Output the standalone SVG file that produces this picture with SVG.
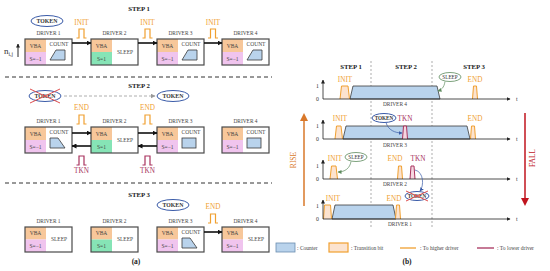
<svg xmlns="http://www.w3.org/2000/svg" width="550" height="271" viewBox="0 0 550 271">
<defs>
<style>
text{font-family:"Liberation Serif","DejaVu Serif",serif;fill:#333}
.step{font-size:6.8px;font-weight:bold;text-anchor:middle;fill:#222}
.dl{font-size:5.4px;text-anchor:middle;fill:#444}
.bt{font-size:5.5px;text-anchor:middle;fill:#444}
.box{fill:none;stroke:#4a4a4a;stroke-width:1.2}
.bg{fill:#fff}
.vba{fill:#F7C79A}
.neg{fill:#F0C4EE}
.pos{fill:#86E4B6}
.cnt{fill:#B9D3EC;stroke:#3a3a3a;stroke-width:0.8}
.lo{font-size:7.2px;text-anchor:middle;fill:#F0A030}
.lr{font-size:7.2px;text-anchor:middle;fill:#A8325E}
.po{fill:none;stroke:#F0A030;stroke-width:1.2}
.pr{fill:none;stroke:#A8325E;stroke-width:1.2}
.tb{fill:#FCE3CF;stroke:#F0A030;stroke-width:1}
.tbr{fill:#F5D6E0;stroke:#A8325E;stroke-width:1}
.tok{fill:#fff;stroke:#3A5BA8;stroke-width:1}
.tt{font-size:5.8px;font-weight:bold;text-anchor:middle;fill:#333}
.slp{fill:#fff;stroke:#5C8A5C;stroke-width:0.8}
.st{font-size:5.2px;text-anchor:middle;fill:#333}
.ar{stroke:#111;stroke-width:1.6;fill:none;marker-end:url(#ab)}
.sep{stroke:#333;stroke-width:1;stroke-dasharray:4 3}
.vd{stroke:#777;stroke-width:0.6;stroke-dasharray:2 2}
.ax{stroke:#222;stroke-width:0.8;fill:none;marker-end:url(#ak)}
.al{font-size:5.8px;text-anchor:end;fill:#333}
.cross{stroke:#E05050;stroke-width:1}
.lg{font-size:5.5px;fill:#444}
</style>
<marker id="ab" markerWidth="5" markerHeight="5" refX="4.5" refY="2.5" orient="auto" markerUnits="userSpaceOnUse"><path d="M0,0 L5,2.5 L0,5 z" fill="#111"/></marker>
<marker id="ak" markerWidth="4" markerHeight="4" refX="3.5" refY="2" orient="auto" markerUnits="userSpaceOnUse"><path d="M0,0 L4,2 L0,4 z" fill="#222"/></marker>
<marker id="ag" markerWidth="5" markerHeight="5" refX="4.5" refY="2.5" orient="auto" markerUnits="userSpaceOnUse"><path d="M0,0 L5,2.5 L0,5 z" fill="#999"/></marker>
<marker id="abl" markerWidth="4" markerHeight="4" refX="3.5" refY="2" orient="auto" markerUnits="userSpaceOnUse"><path d="M0,0 L4,2 L0,4 z" fill="#3A5BA8"/></marker>
<marker id="agr" markerWidth="4" markerHeight="4" refX="3.5" refY="2" orient="auto" markerUnits="userSpaceOnUse"><path d="M0,0 L4,2 L0,4 z" fill="#5C8A5C"/></marker>
<marker id="aor" markerWidth="8" markerHeight="8" refX="6" refY="4" orient="auto" markerUnits="userSpaceOnUse"><path d="M0,0 L8,4 L0,8 z" fill="#D9782A"/></marker>
<marker id="are" markerWidth="8" markerHeight="8" refX="6" refY="4" orient="auto" markerUnits="userSpaceOnUse"><path d="M0,0 L8,4 L0,8 z" fill="#C0141E"/></marker>
</defs>
<rect width="550" height="271" fill="#fff"/>

<!-- ===== Panel (a) ===== -->
<text class="step" x="139" y="11">STEP 1</text>
<text class="step" x="139" y="88">STEP 2</text>
<text class="step" x="139" y="197">STEP 3</text>
<line class="sep" x1="5" y1="77" x2="272" y2="77"/>
<line class="sep" x1="5" y1="183" x2="272" y2="183"/>

<g id="nij">
<text x="4" y="54" style="font-size:9px;fill:#333">n<tspan style="font-size:5.5px" dy="2">i,j</tspan></text>
<line x1="18" y1="57" x2="18" y2="44" stroke="#111" stroke-width="0.9" marker-end="url(#ak)"/>
</g>

<!-- tokens -->
<g id="token-s1"><ellipse class="tok" cx="47" cy="21" rx="16" ry="5.5"/><text class="tt" x="47" y="23">TOKEN</text></g>
<g id="token-s2-old"><ellipse class="tok" cx="45" cy="96" rx="16" ry="5.5"/><text class="tt" x="45" y="98">TOKEN</text>
<line class="cross" x1="30" y1="89" x2="60" y2="103"/><line class="cross" x1="30" y1="103" x2="60" y2="89"/></g>
<g id="token-s2"><ellipse class="tok" cx="173" cy="96" rx="16" ry="5.5"/><text class="tt" x="173" y="98">TOKEN</text></g>
<g id="token-s3"><ellipse class="tok" cx="173" cy="205" rx="16" ry="5.5"/><text class="tt" x="173" y="207">TOKEN</text></g>

<!-- Step 1 drivers -->
<g id="s1-d1"><text class="dl" x="48.5" y="35">DRIVER 1</text><rect class="bg" x="25" y="39" width="47" height="26"/><rect class="vba" x="25" y="39" width="21" height="13"/><rect class="neg" x="25" y="52" width="21" height="13"/><text class="bt" x="35.5" y="47.5">VBA</text><text class="bt" x="35.5" y="60.5">S=−1</text><text class="bt" x="59" y="46">COUNT</text><polygon class="cnt" points="50,60 56,50 65,50 65,60"/><rect class="box" x="25" y="39" width="47" height="26"/></g>
<g id="s1-d2"><text class="dl" x="114.5" y="35">DRIVER 2</text><rect class="bg" x="91" y="39" width="47" height="26"/><rect class="vba" x="91" y="39" width="21" height="13"/><rect class="pos" x="91" y="52" width="21" height="13"/><text class="bt" x="101.5" y="47.5">VBA</text><text class="bt" x="101.5" y="60.5">S=1</text><text class="bt" x="125" y="54">SLEEP</text><rect class="box" x="91" y="39" width="47" height="26"/></g>
<g id="s1-d3"><text class="dl" x="180.5" y="35">DRIVER 3</text><rect class="bg" x="157" y="39" width="47" height="26"/><rect class="vba" x="157" y="39" width="21" height="13"/><rect class="neg" x="157" y="52" width="21" height="13"/><text class="bt" x="167.5" y="47.5">VBA</text><text class="bt" x="167.5" y="60.5">S=−1</text><text class="bt" x="191" y="46">COUNT</text><polygon class="cnt" points="182,60 188,50 197,50 197,60"/><rect class="box" x="157" y="39" width="47" height="26"/></g>
<g id="s1-d4"><text class="dl" x="245.5" y="35">DRIVER 4</text><rect class="bg" x="222" y="39" width="47" height="26"/><rect class="vba" x="222" y="39" width="21" height="13"/><rect class="neg" x="222" y="52" width="21" height="13"/><text class="bt" x="232.5" y="47.5">VBA</text><text class="bt" x="232.5" y="60.5">S=−1</text><text class="bt" x="256" y="46">COUNT</text><polygon class="cnt" points="247,60 253,50 262,50 262,60"/><rect class="box" x="222" y="39" width="47" height="26"/></g>

<!-- Step 2 drivers -->
<g id="s2-d1"><text class="dl" x="48.5" y="123">DRIVER 1</text><rect class="bg" x="25" y="127" width="47" height="26"/><rect class="vba" x="25" y="127" width="21" height="13"/><rect class="neg" x="25" y="140" width="21" height="13"/><text class="bt" x="35.5" y="135.5">VBA</text><text class="bt" x="35.5" y="148.5">S=−1</text><text class="bt" x="59" y="134">COUNT</text><polygon class="cnt" points="50,138 58,138 65,148 50,148"/><rect class="box" x="25" y="127" width="47" height="26"/></g>
<g id="s2-d2"><text class="dl" x="114.5" y="123">DRIVER 2</text><rect class="bg" x="91" y="127" width="47" height="26"/><rect class="vba" x="91" y="127" width="21" height="13"/><rect class="pos" x="91" y="140" width="21" height="13"/><text class="bt" x="101.5" y="135.5">VBA</text><text class="bt" x="101.5" y="148.5">S=1</text><text class="bt" x="125" y="142">SLEEP</text><rect class="box" x="91" y="127" width="47" height="26"/></g>
<g id="s2-d3"><text class="dl" x="180.5" y="123">DRIVER 3</text><rect class="bg" x="157" y="127" width="47" height="26"/><rect class="vba" x="157" y="127" width="21" height="13"/><rect class="neg" x="157" y="140" width="21" height="13"/><text class="bt" x="167.5" y="135.5">VBA</text><text class="bt" x="167.5" y="148.5">S=−1</text><text class="bt" x="191" y="134">COUNT</text><rect class="cnt" x="182" y="138" width="14" height="10"/><rect class="box" x="157" y="127" width="47" height="26"/></g>
<g id="s2-d4"><text class="dl" x="245.5" y="123">DRIVER 4</text><rect class="bg" x="222" y="127" width="47" height="26"/><rect class="vba" x="222" y="127" width="21" height="13"/><rect class="neg" x="222" y="140" width="21" height="13"/><text class="bt" x="232.5" y="135.5">VBA</text><text class="bt" x="232.5" y="148.5">S=−1</text><text class="bt" x="256" y="134">COUNT</text><rect class="cnt" x="247" y="138" width="14" height="10"/><rect class="box" x="222" y="127" width="47" height="26"/></g>

<!-- Step 3 drivers -->
<g id="s3-d1"><text class="dl" x="48.5" y="223">DRIVER 1</text><rect class="bg" x="25" y="227" width="47" height="25"/><rect class="vba" x="25" y="227" width="21" height="12.5"/><rect class="neg" x="25" y="239.5" width="21" height="12.5"/><text class="bt" x="35.5" y="235">VBA</text><text class="bt" x="35.5" y="247.5">S=−1</text><text class="bt" x="59" y="241">SLEEP</text><rect class="box" x="25" y="227" width="47" height="25"/></g>
<g id="s3-d2"><text class="dl" x="114.5" y="223">DRIVER 2</text><rect class="bg" x="91" y="227" width="47" height="25"/><rect class="vba" x="91" y="227" width="21" height="12.5"/><rect class="pos" x="91" y="239.5" width="21" height="12.5"/><text class="bt" x="101.5" y="235">VBA</text><text class="bt" x="101.5" y="247.5">S=1</text><text class="bt" x="125" y="241">SLEEP</text><rect class="box" x="91" y="227" width="47" height="25"/></g>
<g id="s3-d3"><text class="dl" x="180.5" y="223">DRIVER 3</text><rect class="bg" x="157" y="227" width="47" height="25"/><rect class="vba" x="157" y="227" width="21" height="12.5"/><rect class="neg" x="157" y="239.5" width="21" height="12.5"/><text class="bt" x="167.5" y="235">VBA</text><text class="bt" x="167.5" y="247.5">S=−1</text><text class="bt" x="191" y="234">COUNT</text><polygon class="cnt" points="182,238 190,238 197,248 182,248"/><rect class="box" x="157" y="227" width="47" height="25"/></g>
<g id="s3-d4"><text class="dl" x="245.5" y="223">DRIVER 4</text><rect class="bg" x="222" y="227" width="47" height="25"/><rect class="vba" x="222" y="227" width="21" height="12.5"/><rect class="neg" x="222" y="239.5" width="21" height="12.5"/><text class="bt" x="232.5" y="235">VBA</text><text class="bt" x="232.5" y="247.5">S=−1</text><text class="bt" x="256" y="241">SLEEP</text><rect class="box" x="222" y="227" width="47" height="25"/></g>

<!-- Connectors panel (a) -->
<g id="connectors-a">
<line class="ar" x1="72" y1="43" x2="91" y2="43"/>
<line class="ar" x1="138" y1="43" x2="157" y2="43"/>
<line class="ar" x1="204" y1="43" x2="222" y2="43"/>
<line class="ar" x1="72" y1="133" x2="91" y2="133"/>
<line class="ar" x1="138" y1="133" x2="157" y2="133"/>
<line class="ar" x1="91" y1="146" x2="72" y2="146"/>
<line class="ar" x1="157" y1="146" x2="138" y2="146"/>
<line class="ar" x1="204" y1="232" x2="222" y2="232"/>
<line x1="64" y1="96" x2="155" y2="96" stroke="#999" stroke-width="0.8" stroke-dasharray="3 2" marker-end="url(#ag)"/>
</g>

<!-- pulses panel (a) -->
<g id="pulses-a">
<text class="lo" x="81.5" y="25">INIT</text><path class="po" d="M76.5 38 H79 V29 H84 V38 H86.5"/>
<text class="lo" x="147.5" y="25">INIT</text><path class="po" d="M142.5 38 H145 V29 H150 V38 H152.5"/>
<text class="lo" x="213" y="25">INIT</text><path class="po" d="M208 38 H210.5 V29 H215.5 V38 H218"/>
<text class="lo" x="81.5" y="110">END</text><path class="po" d="M76.5 124 H79 V115 H84 V124 H86.5"/>
<text class="lo" x="147.5" y="110">END</text><path class="po" d="M142.5 124 H145 V115 H150 V124 H152.5"/>
<path class="pr" d="M76.5 165 H79 V156 H84 V165 H86.5"/><text class="lr" x="81.5" y="173">TKN</text>
<path class="pr" d="M142.5 165 H145 V156 H150 V165 H152.5"/><text class="lr" x="147.5" y="173">TKN</text>
<text class="lo" x="213" y="209">END</text><path class="po" d="M208 223 H210.5 V214 H215.5 V223 H218"/>
</g>
<text x="136" y="264" style="font-size:7.5px;font-weight:bold;text-anchor:middle;fill:#222">(a)</text>

<!-- ===== Panel (b) ===== -->
<text class="step" x="351" y="69">STEP 1</text>
<text class="step" x="406" y="69">STEP 2</text>
<text class="step" x="474" y="69">STEP 3</text>
<line class="vd" x1="371" y1="61" x2="371" y2="228"/>
<line class="vd" x1="432" y1="61" x2="432" y2="228"/>

<!-- Driver 4 plot -->
<g id="plot-d4">
<polygon class="cnt" points="350,99 353,86 437,86 440,99"/>
<path class="tb" d="M340 99 L341.5 86 L348 86 L349.5 99"/>
<path class="tb" d="M472.5 99 L473.5 86 L476.5 86 L477.5 99"/>
<line class="ax" x1="323" y1="99" x2="510" y2="99"/>
<line class="ax" x1="323" y1="99" x2="323" y2="80"/>
<text class="al" x="319" y="88">1</text><text class="al" x="319" y="101">0</text>
<text x="516" y="101" style="font-size:5.8px;fill:#333">t</text>
<text class="lo" x="345" y="82">INIT</text>
<text class="lo" x="475" y="82">END</text>
<ellipse class="slp" cx="450" cy="77" rx="11" ry="4.5"/><text class="st" x="450" y="79">SLEEP</text>
<text class="dl" x="395" y="106">DRIVER 4</text>
</g>
<!-- Driver 3 plot -->
<g id="plot-d3">
<polygon class="cnt" points="343,139 346,126 467,126 470,139"/>
<path class="tb" d="M335 139 L336.5 126 L341 126 L342.5 139"/>
<path class="tb" d="M470.5 139 L471.5 126 L474.5 126 L475.5 139"/>
<path class="tbr" d="M402.5 139 L403.5 126 L406.5 126 L407.5 139"/>
<line class="ax" x1="323" y1="139" x2="510" y2="139"/>
<line class="ax" x1="323" y1="139" x2="323" y2="120"/>
<text class="al" x="319" y="128">1</text><text class="al" x="319" y="141">0</text>
<text x="516" y="141" style="font-size:5.8px;fill:#333">t</text>
<text class="lo" x="340" y="121">INIT</text>
<text class="lr" x="405" y="121">TKN</text>
<text class="lo" x="475" y="121">END</text>
<ellipse class="tok" cx="384" cy="118" rx="12" ry="4.5"/><text class="st" x="384" y="120" style="font-weight:bold">TOKEN</text>
<text class="dl" x="395" y="147">DRIVER 3</text>
</g>
<!-- Driver 2 plot -->
<g id="plot-d2">
<path class="tb" d="M330 179 L331.5 166 L336 166 L337.5 179"/>
<path class="tb" d="M397.5 179 L398.5 166 L401.5 166 L402.5 179"/>
<path class="tbr" d="M410 179 L411 166 L414 166 L415 179"/>
<line class="ax" x1="323" y1="179" x2="510" y2="179"/>
<line class="ax" x1="323" y1="179" x2="323" y2="160"/>
<text class="al" x="319" y="168">1</text><text class="al" x="319" y="181">0</text>
<text x="516" y="181" style="font-size:5.8px;fill:#333">t</text>
<text class="lo" x="335" y="161">INIT</text>
<text class="lo" x="395" y="161">END</text>
<text class="lr" x="418" y="161">TKN</text>
<ellipse class="slp" cx="356" cy="157" rx="11" ry="4.5"/><text class="st" x="356" y="159">SLEEP</text>
<text class="dl" x="395" y="186">DRIVER 2</text>
</g>
<!-- Driver 1 plot -->
<g id="plot-d1">
<polygon class="cnt" points="332,219 335,205 393,205 396,219"/>
<path class="tb" d="M323.5 219 L324.5 205 L330.5 205 L331.5 219"/>
<path class="tb" d="M395.5 219 L396.5 205 L399.5 205 L400.5 219"/>
<line class="ax" x1="323" y1="219" x2="510" y2="219"/>
<line class="ax" x1="323" y1="219" x2="323" y2="200"/>
<text class="al" x="319" y="208">1</text><text class="al" x="319" y="221">0</text>
<text x="516" y="221" style="font-size:5.8px;fill:#333">t</text>
<text class="lo" x="333" y="201">INIT</text>
<text class="lo" x="394" y="201">END</text>
<ellipse class="tok" cx="417" cy="196" rx="12" ry="4.5"/><text class="st" x="417" y="198" style="font-weight:bold">TOKEN</text>
<line class="cross" x1="406" y1="191" x2="428" y2="201"/><line class="cross" x1="406" y1="201" x2="428" y2="191"/>
<text class="dl" x="400" y="226">DRIVER 1</text>
</g>

<!-- connectors panel (b) -->
<g id="connectors-b">
<path d="M445 81.5 C444 88 441 90 438 91" fill="none" stroke="#5C8A5C" stroke-width="0.7" marker-end="url(#agr)"/>
<path d="M386 122.5 C388 130 395 133 402 133" fill="none" stroke="#3A5BA8" stroke-width="0.7" marker-end="url(#abl)"/>
<path d="M351 161.5 C350 168 345 172 338 172" fill="none" stroke="#5C8A5C" stroke-width="0.7" marker-end="url(#agr)"/>
<path d="M415 170 C424 172 424 186 420 191" fill="none" stroke="#3A5BA8" stroke-width="0.7" marker-end="url(#abl)"/>
<line x1="304" y1="206" x2="304" y2="115" stroke="#D9782A" stroke-width="1.5" marker-end="url(#aor)"/>
<line x1="525" y1="113" x2="525" y2="204" stroke="#C0141E" stroke-width="1.5" marker-end="url(#are)"/>
</g>
<text transform="translate(296,160) rotate(-90)" style="font-size:7.5px;text-anchor:middle;fill:#D9782A">RISE</text>
<text transform="translate(535,158) rotate(-90)" style="font-size:7.5px;text-anchor:middle;fill:#C0141E">FALL</text>

<!-- legend -->
<g id="legend">
<rect class="cnt" x="276" y="243" width="19" height="9" style="stroke:#6a8db0"/>
<text class="lg" x="297" y="250">: Counter</text>
<rect x="329" y="243" width="19" height="9" fill="#FCE3CF" stroke="#F0A030" stroke-width="1.2"/>
<text class="lg" x="351" y="250">: Transition bit</text>
<line x1="400" y1="248" x2="416" y2="248" stroke="#F0A030" stroke-width="1.3"/>
<text class="lg" x="420" y="250">: To higher driver</text>
<line x1="477" y1="248" x2="494" y2="248" stroke="#A8325E" stroke-width="1.3"/>
<text class="lg" x="497" y="250">: To lower driver</text>
</g>
<text x="407" y="264" style="font-size:7.5px;font-weight:bold;text-anchor:middle;fill:#222">(b)</text>
</svg>
